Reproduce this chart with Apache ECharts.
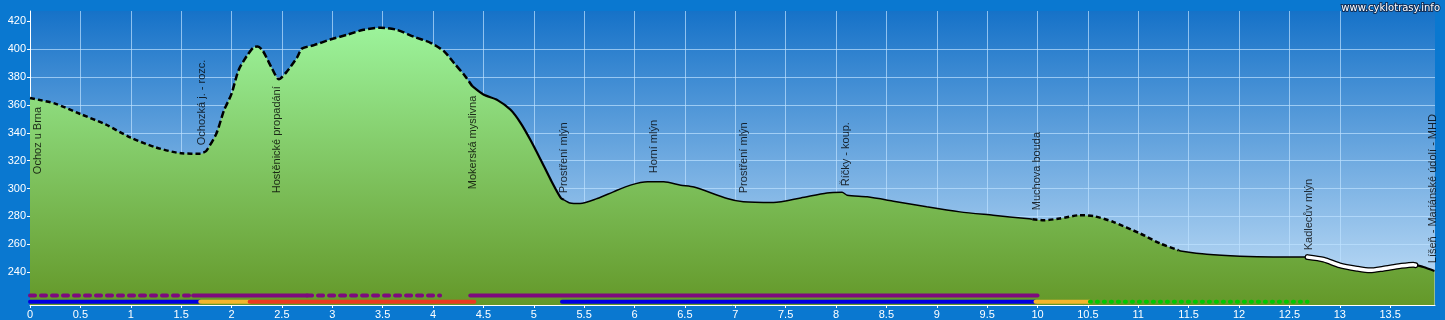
<!DOCTYPE html>
<html><head><meta charset="utf-8">
<script src="https://cdn.jsdelivr.net/npm/echarts@6/dist/echarts.min.js"></script>
<style>html,body{margin:0;padding:0;background:#0a78d0;overflow:hidden}#c{width:1445px;height:320px}</style>
</head><body><div id="c"></div>
<script>
// ---- data ----
const profileKm = [0,0.1,0.25,0.5,0.75,1.0,1.25,1.5,1.7,1.75,1.85,1.925,2.0,2.07,2.15,2.22,2.26,2.31,2.4,2.47,2.55,2.65,2.70,2.82,2.98,3.15,3.31,3.48,3.64,3.81,3.98,4.11,4.21,4.31,4.39,4.50,4.64,4.77,4.87,4.97,5.07,5.17,5.27,5.36,5.46,5.63,5.79,5.96,6.13,6.29,6.46,6.59,6.92,7.08,7.38,7.65,7.91,8.06,8.11,8.31,8.57,8.90,9.23,9.56,9.89,10.06,10.22,10.42,10.56,10.75,11.02,11.22,11.42,11.68,12.01,12.34,12.67,12.84,13.00,13.17,13.30,13.43,13.60,13.73,13.83,13.94];
const profileElev = [365,363.5,361,353.5,346,336.5,329.5,325.3,325,327,339.5,356,368,385,395,401.5,402,399,386.5,378.5,384,394,400.5,403,407,410.5,414,415.5,414,409,404.5,398.5,390,381.5,373.5,367.5,363.5,356.5,347,334.5,320.5,306,293,289.6,289.2,292.8,297.6,302.4,304.8,304.8,302.4,301,292.8,290.4,289.9,293.2,296.8,297.3,295.2,294,290.9,286.8,283.2,280.8,278.4,277.2,278.4,280.8,280.1,276,267.6,260.4,255.1,252.7,251.3,250.8,250.8,248.9,244.8,242.4,241.2,242.4,244.3,245.3,243.6,240.7];

// profile line surface segments
const lineSegKm = [[0,1.72],[1.72,4.39],[4.39,5.3],[5.3,9.95],[9.95,11.4],[11.4,12.68],[12.68,13.75],[13.75,13.94]];
const lineSegType = ['dashed','dashedLong','bold','thin','dashed','thin','white','bold'];

// bottom strips
const stripTopKm = [[0,1.62],[1.62,2.75],[2.75,4.07],[4.37,10.0]];
const stripTopType = ['dotted','solid','dotted','solid'];
const stripBottomKm = [[0,1.69],[1.69,2.18],[2.18,4.41],[5.28,9.98],[9.98,10.52],[10.52,12.68]];
const stripBottomKind = ['blue','yellow','red','blue','yellow','green'];

// waypoints
const wpKm = [0.08,1.71,2.45,4.40,5.30,6.19,7.09,8.10,9.99,12.69,13.92];
const wpName = ['Ochoz u Brna','Ochozká j. - rozc.','Hostěnické propadání','Mokerská myslivna','Prostření mlýn','Horní mlýn','Prostření mlýn','Říčky - koup.','Muchova bouda','Kadlecův mlýn','Líšeň - Mariánské údolí - MHD'];
const wpLabelBaseElev = [310.3,331.1,296.6,299.5,296.6,311,296.6,301.6,284.4,255.6,246.3];

const xTicks = [0,0.5,1,1.5,2,2.5,3,3.5,4,4.5,5,5.5,6,6.5,7,7.5,8,8.5,9,9.5,10,10.5,11,11.5,12,12.5,13,13.5];
const yTicks = [240,260,280,300,320,340,360,380,400,420];

// ---- helpers ----
function elevAt(k){
  for(let i=0;i<profileKm.length-1;i++){
    if(k>=profileKm[i]&&k<=profileKm[i+1]){
      const t=(k-profileKm[i])/(profileKm[i+1]-profileKm[i]);
      return profileElev[i]+t*(profileElev[i+1]-profileElev[i]);
    }
  }
  return profileElev[profileElev.length-1];
}
function segData(a,b){
  const pts=[[a,elevAt(a)]];
  profileKm.forEach((k,i)=>{ if(k>a+0.005&&k<b-0.005) pts.push([k,profileElev[i]]); });
  pts.push([b,elevAt(b)]);
  return pts;
}
const SMOOTH = 0.25;
const FONT = 'Arial, "Liberation Sans", sans-serif';
const series = [];
series.push({
  type:'line', z:2, silent:true, symbol:'none', smooth:SMOOTH,
  data: profileKm.map((k,i)=>[k,profileElev[i]]),
  lineStyle:{width:0},
  areaStyle:{origin:'start', opacity:1, color:new echarts.graphic.LinearGradient(0,0,0,1,[{offset:0,color:'#9cf39b'},{offset:1,color:'#649829'}])}
});
const styles = {
  dashed:[{color:'#000',width:2.5,type:[5,3]}],
  dashedLong:[{color:'#000',width:2.5,type:[7,3]}],
  bold:[{color:'#000',width:2.2}],
  thin:[{color:'#000',width:1.5}],
  white:[{color:'#000',width:6,cap:'round'},{color:'#fff',width:3.5,cap:'round'}]
};
lineSegKm.forEach((s,i)=>{
  styles[lineSegType[i]].forEach((ls,j)=>{
    series.push({type:'line', z:3+j, silent:true, symbol:'none', smooth:SMOOTH, data:segData(s[0],s[1]), lineStyle:ls});
  });
});
const TOP_LEVEL = 223.2, BOTTOM_LEVEL = 218.7;
const purple = '#7e0a7e';
stripTopKm.forEach((s,i)=>{
  const dotted = stripTopType[i]==='dotted';
  series.push({type:'line', z:6, silent:true, symbol:'none', data:[[s[0],TOP_LEVEL],[s[1],TOP_LEVEL]],
    lineStyle:{color:purple,width:4,cap:'round',type: dotted?[5,6]:'solid'}});
});
const stripColors = {blue:'#0000e0', yellow:'#f4b52c', red:'#ec3b20', green:'#00c800'};
stripBottomKm.forEach((s,i)=>{
  const k = stripBottomKind[i];
  series.push({type:'line', z:6, silent:true, symbol:'none', data:[[s[0],BOTTOM_LEVEL],[s[1],BOTTOM_LEVEL]],
    lineStyle:{color:stripColors[k],width:4,cap:'round',type: k==='green'?[1,6]:'solid'}});
});
series.push({
  type:'scatter', z:8, silent:true, symbolSize:0,
  data: wpKm.map((k,i)=>({value:[k,wpLabelBaseElev[i]], name:wpName[i]})),
  label:{show:true, position:'inside', formatter:p=>p.name, rotate:90, align:'left', verticalAlign:'middle',
    color:'#000', fontSize:11, fontFamily:FONT}
});

const chart = echarts.init(document.getElementById('c'), null, {renderer:'canvas'});
chart.setOption({
  animation:false,
  backgroundColor:'#0a78d0',
  grid:{left:30, right:10, top:11, bottom:15, show:true, borderWidth:0,
    backgroundColor:new echarts.graphic.LinearGradient(0,0,0,1,[{offset:0,color:'#1672c8'},{offset:1,color:'#c6e1f8'}])},
  xAxis:{type:'value', min:0, max:13.945, interval:0.5,
    axisLine:{show:true, onZero:false, lineStyle:{color:'#fff',width:1}},
    axisTick:{show:true, length:3, lineStyle:{color:'#fff'}, customValues:xTicks},
    axisLabel:{color:'#fff', fontSize:11, fontFamily:FONT, margin:4, customValues:xTicks, formatter:v=>String(v)},
    splitLine:{show:true, showMinLine:false, showMaxLine:false, lineStyle:{color:'rgba(190,225,255,0.7)',width:1}}
  },
  yAxis:{type:'value', min:216.3, max:427.5, splitNumber:10,
    axisLine:{show:true, onZero:false, lineStyle:{color:'#fff',width:1}},
    axisTick:{show:true, length:3, lineStyle:{color:'#fff'}, customValues:yTicks},
    axisLabel:{color:'#fff', fontSize:11, fontFamily:FONT, margin:4, customValues:yTicks, formatter:v=>String(v)},
    splitLine:{show:true, showMinLine:false, showMaxLine:false, lineStyle:{color:'rgba(190,225,255,0.7)',width:1}}
  },
  graphic:[{type:'text', right:4, top:2, z:100, silent:true,
    style:{text:'www.cyklotrasy.info', fill:'#fff', font:'10px "DejaVu Sans", Verdana, sans-serif', stroke:'#12305a', lineWidth:2}}],
  series: series
});
</script></body></html>
